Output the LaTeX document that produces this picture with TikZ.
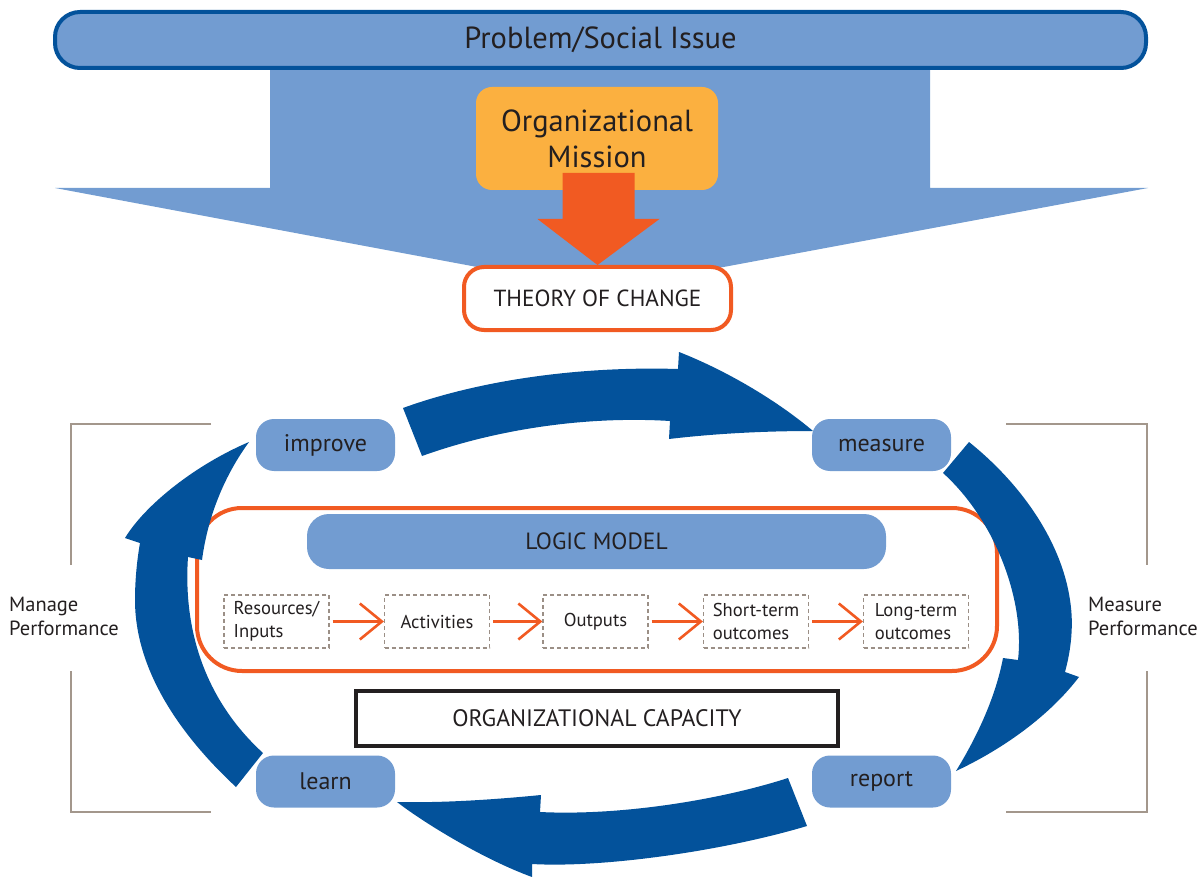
\documentclass[tikz,border=0pt]{standalone}
\usepackage{fontspec}
\setmainfont{PT Sans}
\usetikzlibrary{arrows.meta,calc}

\definecolor{lblue}{HTML}{729CD1}
\definecolor{dblue}{HTML}{03529B}
\definecolor{orng}{HTML}{F15A22}
\definecolor{gold}{HTML}{FBB040}
\definecolor{txt}{HTML}{231F20}
\definecolor{dashgray}{HTML}{9B8F86}
\definecolor{brgray}{HTML}{A3978C}

\tikzset{
  banner/.style={draw=dblue, line width=4pt, fill=lblue, rounded corners=25pt,
    minimum width=1091pt, minimum height=56pt, inner sep=0pt,
    font=\fontsize{30.5}{34}\selectfont},
  mission/.style={fill=gold, rounded corners=16pt, minimum width=242pt,
    minimum height=103pt, inner sep=0pt, align=center,
    font=\fontsize{30.5}{36}\selectfont},
  tocbox/.style={draw=orng, line width=4pt, fill=white, rounded corners=20pt,
    minimum width=267pt, minimum height=63pt, inner sep=0pt,
    font=\fontsize{23.3}{26}\selectfont},
  cyc/.style={fill=lblue, rounded corners=18pt, minimum width=139pt,
    minimum height=52pt, inner sep=0pt, font=\fontsize{24}{26}\selectfont},
  lmbar/.style={fill=lblue, rounded corners=22pt, minimum width=579pt,
    minimum height=55pt, inner sep=0pt, font=\fontsize{23.5}{26}\selectfont},
  lmframe/.style={draw=orng, line width=4pt, rounded corners=45pt,
    minimum width=800pt, minimum height=163pt, inner sep=0pt},
  capbox/.style={draw=txt, line width=4pt, minimum width=482pt,
    minimum height=55pt, inner sep=0pt, font=\fontsize{23.8}{26}\selectfont},
  stage/.style={draw=dashgray, line width=1.2pt, dash pattern=on 4pt off 3pt,
    minimum width=105pt, minimum height=53pt, inner sep=0pt, align=left,
    font=\fontsize{18.6}{23}\selectfont},
  flow/.style={draw=orng, line width=2.6pt,
    -{Straight Barb[length=22pt,width=36pt]}, shorten <=3pt},
  sidelabel/.style={align=left, inner sep=0pt, font=\fontsize{20.5}{24}\selectfont},
  bracket/.style={draw=brgray, line width=1.5pt},
  cycarrow/.style={fill=dblue}
}

\begin{document}
\begin{tikzpicture}[x=1pt,y=-1pt,every node/.style={text=txt}]
\useasboundingbox (0,0) rectangle (1202,877);

% wide downward arrow behind the issue banner
\fill[lblue] (270,60) -- (930,60) -- (930,188) -- (1148,188) -- (600,290)
  -- (55,188) -- (270,188) -- cycle;

\node[banner] (issue) at (600.5,40) {Problem/Social Issue};
\node[mission] (mission) at (597,138.5) {Organizational\\Mission};
\node[tocbox] (toc) at (597.5,298.5) {THEORY OF CHANGE};

% mission feeds into the theory of change
\fill[orng] (toc.north) -- ++(62,-46) -- ++(-25,0) -- ++(0,-46) -- ++(-72,0)
  -- ++(0,46) -- ++(-25,0) -- cycle;

% side brackets
\draw[bracket] (211,424) -- (71,424) -- (71,565);
\draw[bracket] (71,671) -- (71,812) -- (211,812);
\draw[bracket] (1006,424) -- (1147,424) -- (1147,565);
\draw[bracket] (1147,671) -- (1147,812) -- (1006,812);
\node[sidelabel, anchor=west] (manage) at (9,616) {Manage\\Performance};
\node[sidelabel, anchor=west] (measperf) at (1088,616) {Measure\\Performance};

% logic model
\node[lmframe] (lm) at (597,589.5) {};
\node[lmbar] (lmtitle) at (596.5,541.5) {LOGIC MODEL};
\node[stage] (res) at (276.5,621.5) {Resources/\\Inputs};
\node[stage] (act) at (437,621.5) {Activities};
\node[stage] (out) at (595.5,621.5) {Outputs};
\node[stage] (st) at (756,621.5) {Short-term\\outcomes};
\node[stage] (lt) at (916,621.5) {Long-term\\outcomes};
\draw[flow] (res) -- (act);
\draw[flow] (act) -- (out);
\draw[flow] (out) -- (st);
\draw[flow] (st) -- (lt);

\node[capbox] (cap) at (597,718.5) {ORGANIZATIONAL CAPACITY};

% cycle stages
\node[cyc] (improve) at (325.5,445) {improve};
\node[cyc] (measure) at (881.5,445) {measure};
\node[cyc] (report) at (881.5,781.5) {report};
\node[cyc] (learn) at (325.5,781.5) {learn};

% improve -> measure
\fill[cycarrow] (403,408) .. controls (480,380) and (580,366) .. (678,369)
  -- (679,352) .. controls (730,372) and (780,403) .. (813,431)
  .. controls (770,431) and (720,433) .. (669,439)
  -- (670,421) .. controls (590,416) and (500,428) .. (422,456) -- cycle;
% measure -> report
\fill[cycarrow] (969,442) .. controls (1025,487) and (1062,545) .. (1070,600)
  .. controls (1074,625) and (1071,650) .. (1065,672)
  -- (1079,677) .. controls (1050,715) and (1005,748) .. (956,771)
  .. controls (975,740) and (995,700) .. (1003,658)
  -- (1018,660) .. controls (1025,600) and (995,520) .. (943,473) -- cycle;
% report -> learn
\fill[cycarrow] (788,778) .. controls (720,800) and (620,816) .. (540,812)
  -- (541,795) .. controls (490,800) and (440,803) .. (397,802)
  .. controls (420,820) and (480,858) .. (532,877)
  -- (532,864) .. controls (600,868) and (720,852) .. (807,826) -- cycle;
% learn -> improve
\fill[cycarrow] (236,787) .. controls (180,735) and (135,670) .. (135,600)
  .. controls (135,580) and (137,560) .. (140,543)
  -- (125,538) .. controls (145,505) and (195,465) .. (249,442)
  .. controls (225,475) and (208,515) .. (202,560)
  -- (188,557) .. controls (183,630) and (205,700) .. (263,753) -- cycle;
\end{tikzpicture}
\end{document}
